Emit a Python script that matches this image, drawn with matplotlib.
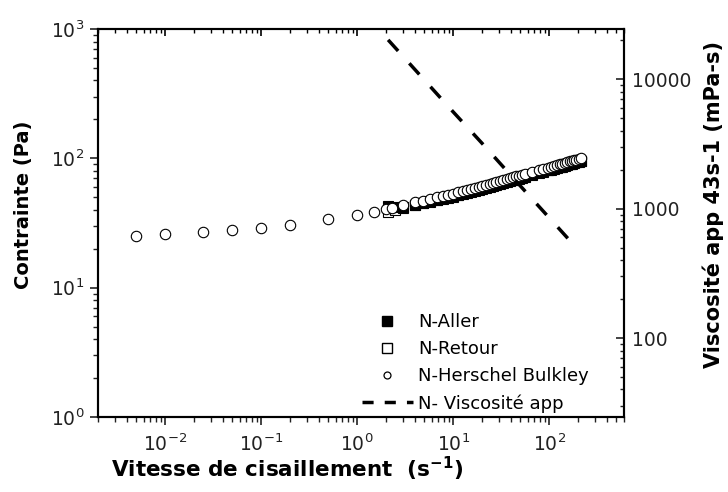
import matplotlib
matplotlib.use("Agg")
import matplotlib.pyplot as plt
from matplotlib.lines import Line2D
from matplotlib.ticker import FuncFormatter, LogLocator, NullFormatter

plt.rcParams["font.family"] = ["DejaVu Sans"]

# Herschel Bulkley (cercles)
rate_hb = [0.005, 0.01, 0.025, 0.05, 0.1, 0.2, 0.5, 1.0, 1.5,
           2.0, 2.3, 3.0, 4.0, 4.9, 5.8, 6.8, 7.9, 8.9, 10, 11.3, 12.7, 14, 15.5, 17,
           18.5, 20, 22, 24, 26, 28, 30.5, 33, 36, 39, 42, 45, 48, 52, 56, 66, 78, 87,
           96, 104, 112, 120, 128, 136, 145, 154, 163, 172, 182, 192, 203, 215]
stress_hb = [25, 26, 27, 28, 29, 30.6, 34, 36.5, 38.5,
             40.6, 41.6, 43.5, 45.6, 47.2, 48.6, 49.9, 51.2, 52.2, 53.2, 54.6, 55.9, 57.0,
             58.2, 59.3, 60.4, 61.3, 62.6, 63.7, 64.8, 65.8, 66.9, 68.0, 69.3, 70.4, 71.5,
             72.5, 73.5, 74.7, 75.9, 78.5, 81.2, 83.1, 84.8, 86.2, 87.5, 88.8, 90.0, 91.1,
             92.3, 93.5, 94.6, 95.7, 96.8, 97.8, 98.9, 100.1]

# mesures aller / retour
rate_mes = [2.1, 2.5, 3.0, 4.0, 4.9, 5.8, 6.8, 7.9, 8.9, 10, 11.3, 12.7, 14, 15.5, 17,
            18.5, 20, 22, 24, 26, 28, 30.5, 33, 36, 39, 42, 45, 48, 52, 56, 66, 78, 87,
            96, 104, 112, 120, 128, 136, 145, 154, 163, 172, 182, 192, 203, 215]
stress_aller = [42.5, 42.3, 42.4, 43.8, 45.3, 46.7, 47.9, 49.2, 50.1, 51.1, 52.4, 53.7,
                54.7, 55.9, 56.9, 58.0, 58.8, 60.1, 61.2, 62.2, 63.2, 64.2, 65.3, 66.5,
                67.6, 68.6, 69.6, 70.6, 71.7, 72.9, 75.4, 78.0, 79.8, 81.4, 82.8, 84.0,
                85.2, 86.4, 87.5, 88.6, 89.8, 90.8, 91.9, 92.9, 93.9, 94.9, 96.1]
stress_retour = [38.5, 40.0, 41.5, 43.3, 44.8, 46.2, 47.4, 48.6, 49.6, 50.5, 51.9, 53.1,
                 54.2, 55.3, 56.3, 57.4, 58.2, 59.5, 60.5, 61.6, 62.5, 63.6, 64.6, 65.8,
                 66.9, 67.9, 68.9, 69.8, 71.0, 72.1, 74.6, 77.1, 78.9, 80.6, 81.9, 83.1,
                 84.4, 85.5, 86.5, 87.7, 88.8, 89.9, 90.9, 92.0, 92.9, 94.0, 95.1]

# viscosite apparente (axe de droite, mPa-s)
rate_visc = [2.1, 5, 10, 20, 50, 100, 170]
visc = [20200, 9900, 5600, 3200, 1500, 850, 550]

labels = ["N-Aller", "N-Retour", "N-Herschel Bulkley", "N- Viscosité app"]

fig = plt.figure(figsize=(7.28, 4.92), dpi=100)
ax = fig.add_axes([0.1346, 0.1524, 0.7225, 0.7886])
ax2 = ax.twinx()

ax.plot(rate_mes, stress_retour, ls="none", marker="s", ms=7.5, mfc="white", mec="black", mew=0.8)
ax.plot(rate_mes, stress_aller, ls="none", marker="s", ms=7.5, mfc="black", mec="black", mew=0.8)
ax.plot(rate_hb, stress_hb, ls="none", marker="o", ms=7.5, mfc="white", mec="black", mew=0.8)
ax2.plot(rate_visc, visc, color="black", lw=2.5, dashes=(4.3, 4.8))

ax.set_xscale("log")
ax.set_yscale("log")
ax2.set_yscale("log")
ax.set_xlim(0.002, 600)
ax.set_ylim(1, 1000)
ax2.set_ylim(24.5, 24500)

for a in (ax, ax2):
    for s in a.spines.values():
        s.set_linewidth(1.5)

ax.xaxis.set_minor_locator(LogLocator(base=10, subs=range(2, 10), numticks=20))
ax.yaxis.set_minor_locator(LogLocator(base=10, subs=range(2, 10), numticks=20))
ax2.yaxis.set_major_locator(LogLocator(base=10, numticks=10))
ax2.yaxis.set_minor_locator(LogLocator(base=10, subs=range(2, 10), numticks=20))
ax2.yaxis.set_major_formatter(FuncFormatter(lambda v, p: f"{v:.0f}"))
ax2.yaxis.set_minor_formatter(NullFormatter())

ax.tick_params(axis="x", which="both", direction="out", top=False, labelsize=13.5, pad=6, colors="#222222")
ax.tick_params(axis="y", which="both", direction="out", right=False, labelsize=13.5, pad=4, colors="#222222")
ax.tick_params(which="major", length=6, width=1.2)
ax.tick_params(which="minor", length=3.5, width=1.0)

# ticks du haut vers l'interieur
ax2.xaxis.set_visible(True)
ax2.tick_params(axis="x", which="both", direction="in", bottom=False, top=True,
                labelbottom=False, labeltop=False)
ax2.tick_params(axis="x", which="major", length=5, width=1.2)
ax2.tick_params(axis="x", which="minor", length=3, width=1.0)
ax2.tick_params(axis="y", which="both", direction="in", labelsize=13.5, pad=6, colors="#222222")
ax2.tick_params(axis="y", which="major", length=5.5, width=1.2)
ax2.tick_params(axis="y", which="minor", length=3, width=1.0)

ax.set_xlabel("Vitesse de cisaillement  (s$^{\\mathbf{-1}}$)", fontsize=15.5, fontweight="bold")
ax.xaxis.set_label_coords(0.36, -0.098)
ax.set_ylabel("Contrainte (Pa)", fontsize=14, fontweight="bold")
ax.yaxis.set_label_coords(-0.124, 0.546)
ax2.set_ylabel("Viscosité app 43s-1 (mPa-s)", fontsize=15, fontweight="bold")
ax2.yaxis.set_label_coords(1.15, 0.549)

handles = [
    Line2D([], [], ls="none", marker="s", ms=7, mfc="black", mec="black"),
    Line2D([], [], ls="none", marker="s", ms=6.5, mfc="white", mec="black", mew=1),
    Line2D([], [], ls="none", marker="o", ms=5, mfc="white", mec="black", mew=0.9),
    Line2D([], [], color="black", lw=2.5, dashes=(3.2, 3.2)),
]
fig.legend(handles, labels, loc="upper left", bbox_to_anchor=(362 / 728, 1 - 313 / 492),
           frameon=False, borderpad=0, borderaxespad=0, handlelength=2.8,
           handletextpad=0.3, labelspacing=0.5, fontsize=13)

fig.savefig("out.png", dpi=100)
